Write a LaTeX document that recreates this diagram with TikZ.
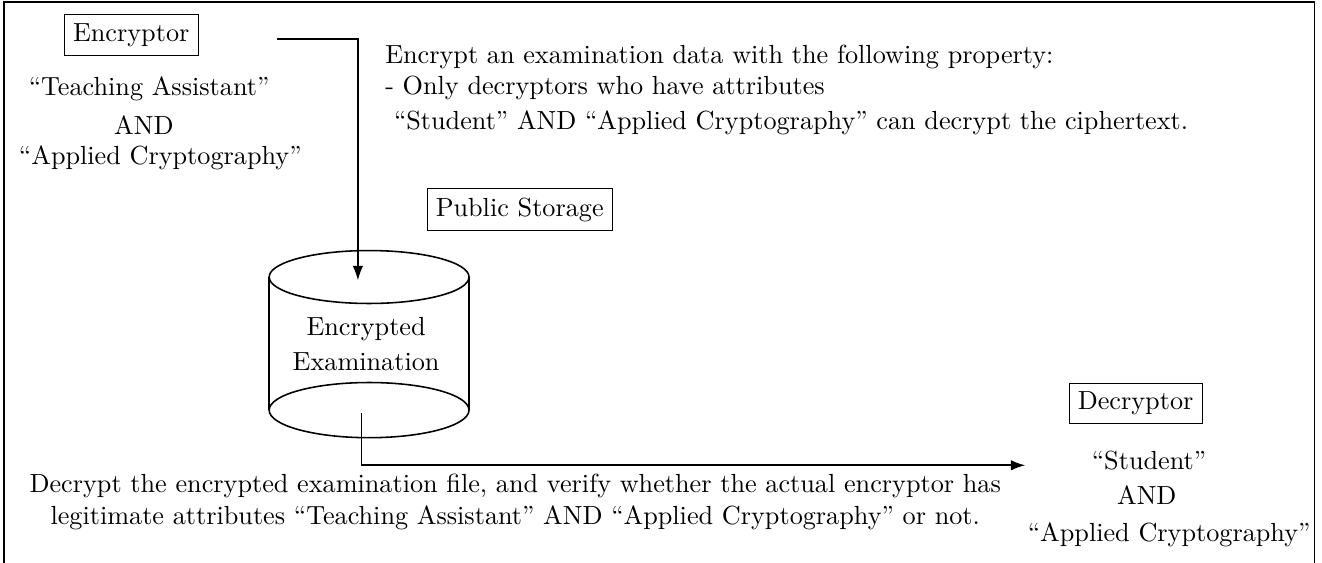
\documentclass[tikz,border=0pt]{standalone}
\usepackage{tikz}
\usetikzlibrary{arrows.meta}

\begin{document}
\begin{tikzpicture}[
  party/.style={draw, thin, inner sep=3.33pt},
  attr/.style={anchor=base},
  note/.style={anchor=base west, inner sep=0pt},
  flow/.style={semithick, -{Latex[length=5.5pt, width=4pt]}}
]
\useasboundingbox (0,0) rectangle (17.73,7.55);
% outer frame, its bottom edge runs off the page
\draw[semithick] (0.05,0) -- (0.05,7.52) -- (17.63,7.52) -- (17.63,0);

% encryptor and its attributes
\node[party] (enc) at (1.76,7.08) {Encryptor};
\node[attr] (encA1) at (2.00,6.27) {``Teaching Assistant''};
\node[attr] (encA2) at (1.93,5.74) {AND};
\node[attr] (encA3) at (2.15,5.35) {``Applied Cryptography''};

% access policy
\node[note] (pol1) at (5.16,6.70) {Encrypt an examination data with the following property:};
\node[note] (pol2) at (5.16,6.28) {- Only decryptors who have attributes};
\node[note] (pol3) at (5.16,5.81) {\ ``Student'' AND ``Applied Cryptography'' can decrypt the ciphertext.};

\node[party] (store) at (6.97,4.74) {Public Storage};

% storage cylinder
\coordinate (cylTop) at (4.95,3.835);
\coordinate (cylBot) at (4.95,2.05);
\draw[semithick] (cylTop) ellipse (1.34 and 0.355);
\draw[semithick] (cylBot) ellipse (1.34 and 0.37);
\draw[semithick] ([xshift=-1.34cm]cylTop) -- ([xshift=-1.34cm]cylBot);
\draw[semithick] ([xshift=1.34cm]cylTop) -- ([xshift=1.34cm]cylBot);
\node[align=center] (ctext) at (4.91,2.93) {Encrypted\\[1.4pt]Examination};

% data flow
\coordinate (encOut) at (3.71,7.03);
\coordinate (cylIn) at (4.80,3.79);
\draw[flow] (encOut) -| (cylIn);
\coordinate (cylOut) at (4.85,2.01);
\coordinate (decIn) at (13.75,1.31);
\draw[flow] (cylOut) |- (decIn);

% decryptor and its attributes
\node[party] (dec) at (15.23,2.14) {Decryptor};
\node[attr] (decA1) at (15.41,1.25) {``Student''};
\node[attr] (decA2) at (15.38,0.78) {AND};
\node[attr] (decA3) at (15.68,0.29) {``Applied Cryptography''};

% verification step
\node[attr] (ver1) at (6.91,0.94) {Decrypt the encrypted examination file, and verify whether the actual encryptor has};
\node[attr] (ver2) at (6.91,0.51) {legitimate attributes ``Teaching Assistant'' AND ``Applied Cryptography'' or not.};
\end{tikzpicture}
\end{document}
